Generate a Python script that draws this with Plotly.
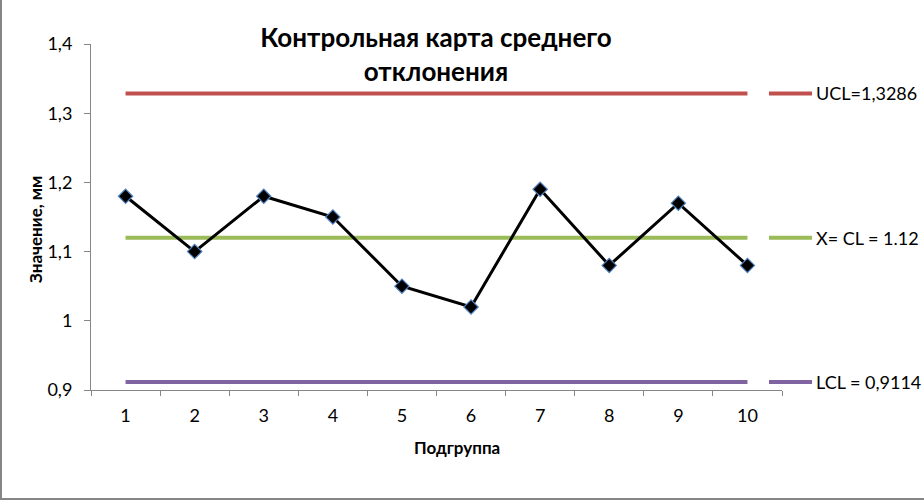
import plotly.graph_objects as go

# data
subgroups = ["1", "2", "3", "4", "5", "6", "7", "8", "9", "10"]
values = [1.18, 1.10, 1.18, 1.15, 1.05, 1.02, 1.19, 1.08, 1.17, 1.08]
ucl = 1.3286
cl = 1.12
lcl = 0.9114
limit_names = ["UCL=1,3286", "X= CL = 1.12", "LCL = 0,9114"]
limit_values = [ucl, cl, lcl]
limit_colors = ["#C0504D", "#9BBB59", "#8064A2"]

W, H = 924, 500
L, R, T, B = 91, 142, 44, 110
pw, ph = W - L - R, H - T - B

fig = go.Figure()

for name, val, col in zip(limit_names, limit_values, limit_colors):
    fig.add_trace(go.Scatter(x=subgroups, y=[val] * len(subgroups), mode="lines",
                             line=dict(color=col, width=4), name=name, showlegend=False))
    # legend entry placed beside its line, like Excel does
    fig.add_shape(type="line", xref="paper", yref="y", x0=(769 - L) / pw, x1=(812 - L) / pw,
                  y0=val, y1=val, line=dict(color=col, width=4))
    fig.add_annotation(xref="paper", yref="y", x=(814 - L) / pw, y=val, text=name, showarrow=False,
                       xanchor="left", yanchor="middle",
                       font=dict(family="Lato", size=18, color="#000"))

fig.add_trace(go.Scatter(x=subgroups, y=values, mode="lines+markers", name="Среднее",
                         line=dict(color="black", width=3),
                         marker=dict(symbol="diamond", size=11, color="black",
                                     line=dict(color="#4F81BD", width=1.2)),
                         showlegend=False))

# axis titles
fig.add_annotation(xref="paper", yref="paper", x=(457 - L) / pw, y=-(447 - (H - B)) / ph,
                   text="<b>Подгруппа</b>", showarrow=False, xanchor="center", yanchor="middle",
                   font=dict(family="Lato", size=17, color="#000"))
fig.add_annotation(xref="paper", yref="paper", x=(35 - L) / pw, y=(H - B - 230) / ph,
                   text="<b>Значение, мм</b>", showarrow=False, xanchor="center",
                   yanchor="middle", textangle=-90,
                   font=dict(family="Lato", size=17, color="#000"))

# chart border (only left and bottom edges are visible)
fig.add_shape(type="line", xref="paper", yref="paper", x0=(1 - L) / pw, x1=(1 - L) / pw,
              y0=-(H - T - 1) / ph + 1, y1=1 + T / ph, line=dict(color="#868686", width=2))
fig.add_shape(type="line", xref="paper", yref="paper", x0=-L / pw, x1=1 + R / pw,
              y0=-(B - 1) / ph, y1=-(B - 1) / ph, line=dict(color="#868686", width=2))

fig.update_layout(
    width=W, height=H,
    margin=dict(l=L, r=R, t=T, b=B, autoexpand=False),
    paper_bgcolor="white", plot_bgcolor="white",
    separators=", ",
    font=dict(family="Lato", size=18, color="#000"),
    title=dict(text="<b>Контрольная карта среднего<br>отклонения</b>",
               x=436 / W, xanchor="center", y=1 - 47 / H, yanchor="middle",
               font=dict(family="Lato", size=26, color="#000")),
    xaxis=dict(type="category", range=[-0.5, len(subgroups) - 0.5], showgrid=False,
               showline=True, linecolor="#868686", linewidth=1,
               ticks="outside", tickson="boundaries", ticklen=5, tickcolor="#868686",
               ticklabelstandoff=9, automargin=False),
    yaxis=dict(range=[0.9, 1.4], dtick=0.1, tickformat=".1~f", showgrid=False, zeroline=False,
               showline=True, linecolor="#868686", linewidth=1,
               ticks="outside", ticklen=6, tickcolor="#868686",
               ticklabelstandoff=8, automargin=False),
)

fig.write_html("out.html", config={"displayModeBar": False},
               post_script="document.body.style.margin='0';")
